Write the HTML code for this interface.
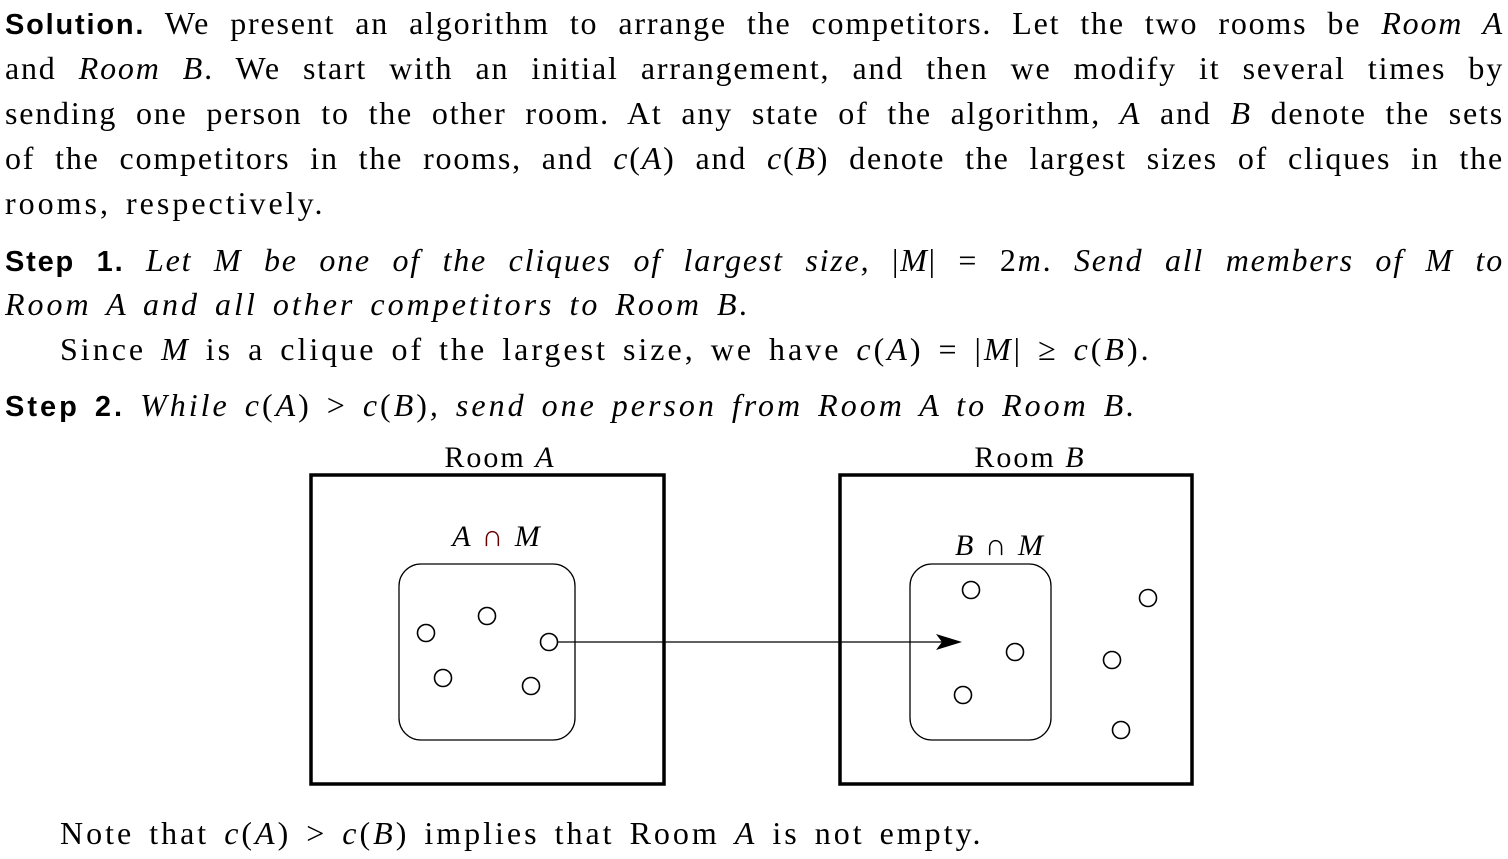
<!DOCTYPE html>
<html><head><meta charset="utf-8"><style>
body{margin:0;width:1508px;height:859px;background:#fff;position:relative;overflow:hidden;font-family:"Liberation Serif",serif;color:#000}
.l{position:absolute;left:5px;width:1497px;font-size:32px;line-height:34px;white-space:nowrap;letter-spacing:3px;word-spacing:4px}
.j{text-align:justify;text-align-last:justify;letter-spacing:1.8px;word-spacing:0;width:1499px}
i{font-style:italic}
b{font-family:"Liberation Sans",sans-serif;font-weight:bold;font-size:29px}
</style></head><body>
<div class="l j" style="top:6px"><b>Solution.</b> We present an algorithm to arrange the competitors. Let the two rooms be <i>Room A</i></div>
<div class="l j" style="top:51px">and <i>Room B</i>. We start with an initial arrangement, and then we modify it several times by</div>
<div class="l j" style="top:96px">sending one person to the other room. At any state of the algorithm, <i>A</i> and <i>B</i> denote the sets</div>
<div class="l j" style="top:141px">of the competitors in the rooms, and <i>c</i>(<i>A</i>) and <i>c</i>(<i>B</i>) denote the largest sizes of cliques in the</div>
<div class="l" style="top:186px">rooms, respectively.</div>
<div class="l j" style="top:243px"><b>Step 1.</b> <i>Let M be one of the cliques of largest size,</i> |<i>M</i>| = 2<i>m</i>. <i>Send all members of M to</i></div>
<div class="l" style="top:287px"><i>Room A and all other competitors to Room B.</i></div>
<div class="l" style="top:332px;left:60px">Since <i>M</i> is a clique of the largest size, we have <i>c</i>(<i>A</i>) = |<i>M</i>| ≥ <i>c</i>(<i>B</i>).</div>
<div class="l" style="top:388px"><b>Step 2.</b> <i>While c</i>(<i>A</i>) &gt; <i>c</i>(<i>B</i>)<i>, send one person from Room A to Room B.</i></div>
<div class="l" style="top:816px;left:60px">Note that <i>c</i>(<i>A</i>) &gt; <i>c</i>(<i>B</i>) implies that Room <i>A</i> is not empty.</div>
<svg width="1508" height="859" style="position:absolute;left:0;top:0" font-family="Liberation Serif,serif" font-size="30" letter-spacing="2">
<text x="500" y="467" text-anchor="middle">Room <tspan font-style="italic">A</tspan></text>
<text x="1030" y="467" text-anchor="middle">Room <tspan font-style="italic">B</tspan></text>
<text x="497" y="546" text-anchor="middle" font-style="italic">A <tspan font-style="normal" fill="#600">∩</tspan> M</text>
<text x="1000" y="555" text-anchor="middle" font-style="italic">B <tspan font-style="normal">∩</tspan> M</text>
<g fill="none" stroke="#000">
<rect x="311" y="475" width="353" height="309" stroke-width="3.5"/>
<rect x="840" y="475" width="352" height="309" stroke-width="3.5"/>
<rect x="399" y="564" width="176" height="176" rx="22" stroke-width="1.3"/>
<rect x="910" y="564" width="141" height="176" rx="22" stroke-width="1.3"/>
<g stroke-width="1.6">
<circle cx="426" cy="633" r="8.5"/><circle cx="487" cy="616" r="8.5"/><circle cx="549" cy="642" r="8.5"/><circle cx="443" cy="678" r="8.5"/><circle cx="531" cy="686" r="8.5"/>
<circle cx="971" cy="590" r="8.5"/><circle cx="1015" cy="652" r="8.5"/><circle cx="963" cy="695" r="8.5"/><circle cx="1148" cy="598" r="8.5"/><circle cx="1112" cy="660" r="8.5"/><circle cx="1121" cy="730" r="8.5"/>
</g>
<line x1="558" y1="642" x2="950" y2="642" stroke-width="1.3"/>
</g>
<path d="M962 642 L936 634 L942 642 L936 650 Z" fill="#000"/>
</svg>
</body></html>
